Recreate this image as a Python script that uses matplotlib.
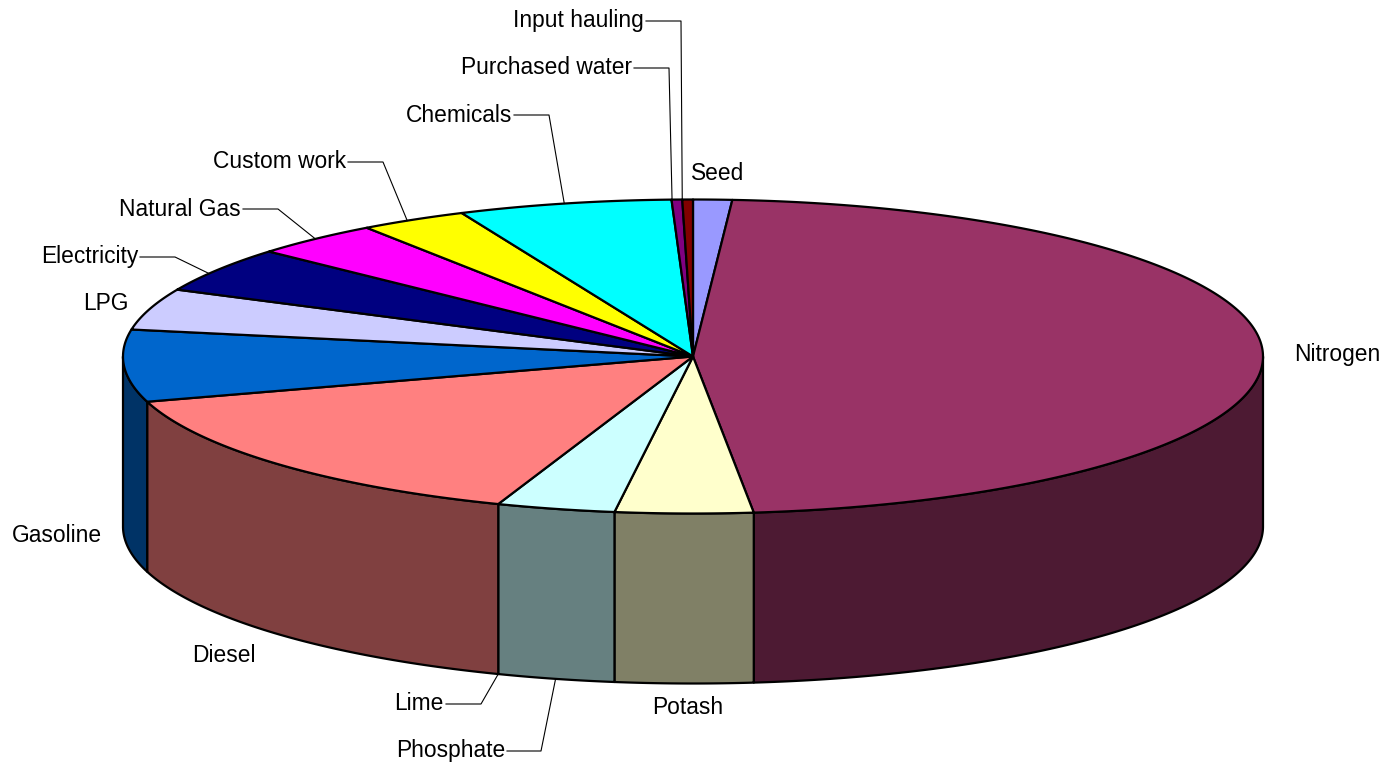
import numpy as np
import matplotlib
matplotlib.use('Agg')
import matplotlib.pyplot as plt

plt.rcParams['font.family'] = ['Liberation Sans', 'DejaVu Sans']

# Share of each slice in percent, clockwise from 12 o'clock
labels = ['Seed', 'Nitrogen', 'Potash', 'Phosphate', 'Lime', 'Diesel', 'Gasoline', 'LPG',
          'Electricity', 'Natural Gas', 'Custom work', 'Chemicals', 'Purchased water', 'Input hauling']
values = [1.1, 47.2, 3.9, 3.35, 0.0, 14.8, 7.4, 4.25, 4.65, 3.65, 3.05, 6.05, 0.3, 0.3]
colors = ['#9999FF', '#993366', '#FFFFCC', '#CCFFFF', '#660066', '#FF8080', '#0066CC', '#CCCCFF',
          '#000080', '#FF00FF', '#FFFF00', '#00FFFF', '#800080', '#800000']

# pie geometry in pixels
cx, cy = 693, 356.5
rx, ry = 570, 157
depth = 170


def rim(t_deg, drop=0):
    t = np.radians(t_deg)
    return cx + rx * np.sin(t), cy - ry * np.cos(t) + drop


edges = np.cumsum([0] + values) / sum(values) * 360

fig = plt.figure(figsize=(13.86, 7.63), dpi=100)
ax = fig.add_axes([0, 0, 1, 1])
ax.set_xlim(0, 1386)
ax.set_ylim(763, 0)
ax.axis('off')

# side wall first, only the front half of the rim shows
for i, c in enumerate(colors):
    a = max(edges[i], 90)
    b = min(edges[i + 1], 270)
    if b <= a:
        continue
    t = np.linspace(a, b, 200)
    x, y = rim(t)
    rgb = np.array(matplotlib.colors.to_rgb(c)) * 0.5
    ax.fill(np.r_[x, x[::-1]], np.r_[y, y[::-1] + depth], facecolor=rgb,
            edgecolor='black', lw=1.6, joinstyle='round', zorder=2)

# top face
for i, c in enumerate(colors):
    if values[i] == 0:
        continue
    t = np.linspace(edges[i], edges[i + 1], 300)
    x, y = rim(t)
    ax.fill(np.r_[cx, x], np.r_[cy, y], facecolor=c, edgecolor='black', lw=1.6,
            joinstyle='round', zorder=3)

# label: text x, text y, horizontal align, leader elbow, position of leader end inside slice, on bottom rim
layout = {
    'Seed': (691, 173, 'left', None, 0, False),
    'Nitrogen': (1294, 354, 'left', None, 0, False),
    'Potash': (652, 708, 'left', None, 0, False),
    'Phosphate': (505, 751, 'right', (541, 751), 0.5, True),
    'Lime': (444, 703, 'right', (481, 704), 0.5, True),
    'Diesel': (192, 655, 'left', None, 0, False),
    'Gasoline': (12, 535, 'left', None, 0, False),
    'LPG': (83, 303, 'left', None, 0, False),
    'Electricity': (138, 256, 'right', (175, 257), 0.4, False),
    'Natural Gas': (241, 209, 'right', (278, 209), 0.5, False),
    'Custom work': (346, 162, 'right', (383, 162), 0.44, False),
    'Chemicals': (512, 115, 'right', (549, 115), 0.5, False),
    'Purchased water': (632, 67, 'right', (669, 68), 0.05, False),
    'Input hauling': (644, 20, 'right', (681, 21), 0.0, False),
}

for i, name in enumerate(labels):
    tx, ty, ha, elbow, frac, front = layout[name]
    ax.text(tx, ty, name, fontsize=16.4, ha=ha, va='center', color='black', zorder=5)
    if elbow is not None:
        end = rim(edges[i] + frac * (edges[i + 1] - edges[i]), depth if front else 0)
        ax.plot([tx + 2, elbow[0], end[0]], [elbow[1], elbow[1], end[1]], color='black', lw=0.8, zorder=4)

fig.savefig('out.png', dpi=100)
